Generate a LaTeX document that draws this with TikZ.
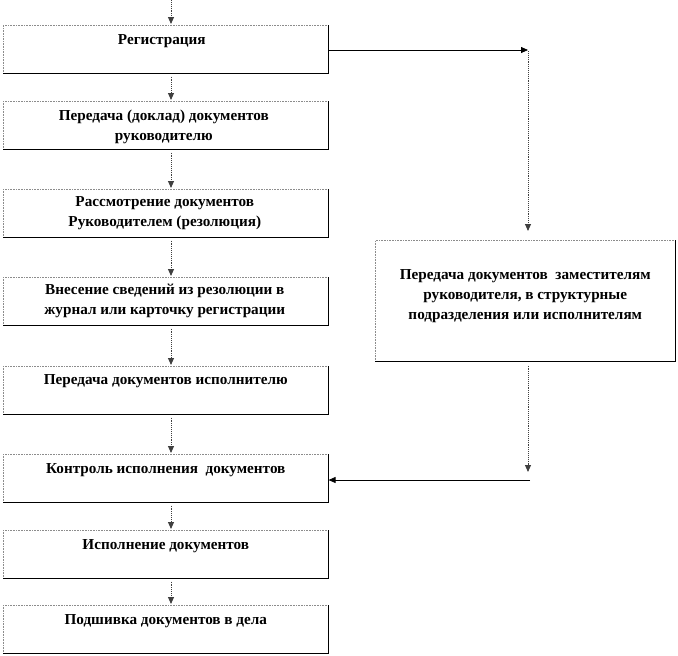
\documentclass[tikz,border=0pt]{standalone}
\usepackage{fontspec}
\setmainfont{Liberation Serif}
\usetikzlibrary{arrows.meta,calc}
\begin{document}
\begin{tikzpicture}[x=1pt,y=-1pt,
  box/.style={draw=black!45, line width=0.6pt, densely dotted, minimum width=325pt, minimum height=48pt, inner sep=0pt, anchor=north west},
  edge/.style={draw=black, line width=0.7pt},
  txt/.style={font=\bfseries\fontsize{15.2}{20}\selectfont, align=center, anchor=north, inner sep=0pt},
  arr/.style={draw=black!75, line width=0.9pt, densely dotted, -{Triangle[length=7pt,width=6pt]}},
  solidarr/.style={draw=black, line width=0.8pt, -{Triangle[length=7pt,width=6pt]}}]
\useasboundingbox (0,0) rectangle (678,656);
\node[box] (b1) at (3,25) {};
\node[box] (b2) at (3,101) {};
\node[box] (b3) at (3,189) {};
\node[box] (b4) at (3,277) {};
\node[box] (b5) at (3,366) {};
\node[box] (b6) at (3,454) {};
\node[box] (b7) at (3,530) {};
\node[box] (b8) at (3,605) {};
\node[box, minimum width=300pt, minimum height=121pt] (r) at (375,240) {};
\foreach \n in {b1,b2,b3,b4,b5,b6,b7,b8,r}
  \draw[edge] (\n.south west) -- (\n.south east) -- (\n.north east);
\node[txt] (t1) at ($(b1.north)+(-4,9)$) {Регистрация};
\node[txt] (t2) at ($(b2.north)+(-2,9)$) {Передача (доклад) документов\\руководителю};
\node[txt] (t3) at ($(b3.north)+(-1,7)$) {Рассмотрение документов\\Руководителем (резолюция)};
\node[txt] (t4) at ($(b4.north)+(-1,7)$) {Внесение сведений из резолюции в\\журнал или карточку регистрации};
\node[txt] (t5) at ($(b5.north)+(0,8)$) {Передача документов исполнителю};
\node[txt] (t6) at ($(b6.north)+(0,9)$) {Контроль исполнения\ \ документов};
\node[txt] (t7) at ($(b7.north)+(0,9)$) {Исполнение документов};
\node[txt] (t8) at ($(b8.north)+(0,9)$) {Подшивка документов в дела};
\node[txt, anchor=center] (tr) at ($(r.center)+(0,-5)$) {Передача документов\ \ заместителям\\руководителя, в структурные\\подразделения или исполнителям};
\coordinate (ax) at (171,0);
\coordinate (top) at (171,0);
\coordinate (rx) at (528,0);
\coordinate (c2) at (530,480);
\draw[arr] (top) -- ($(b1.north -| ax)+(0,-1)$);
\foreach \a/\b in {b1/b2,b2/b3,b3/b4,b4/b5,b5/b6,b6/b7,b7/b8}
  \draw[arr] ($(\a.south -| ax)+(0,3)$) -- ($(\b.north -| ax)+(0,-1)$);
\draw[solidarr] (b1.east |- 0,50) -- (rx |- 0,50);
\draw[arr] ($(rx |- 0,50)+(0,1)$) -- ($(r.north -| rx)+(0,-9)$);
\draw[arr] ($(r.south -| rx)+(0,4)$) -- ($(c2)+(-2,-8)$);
\draw[solidarr] (c2) -- (c2 -| b6.east);
\end{tikzpicture}
\end{document}
